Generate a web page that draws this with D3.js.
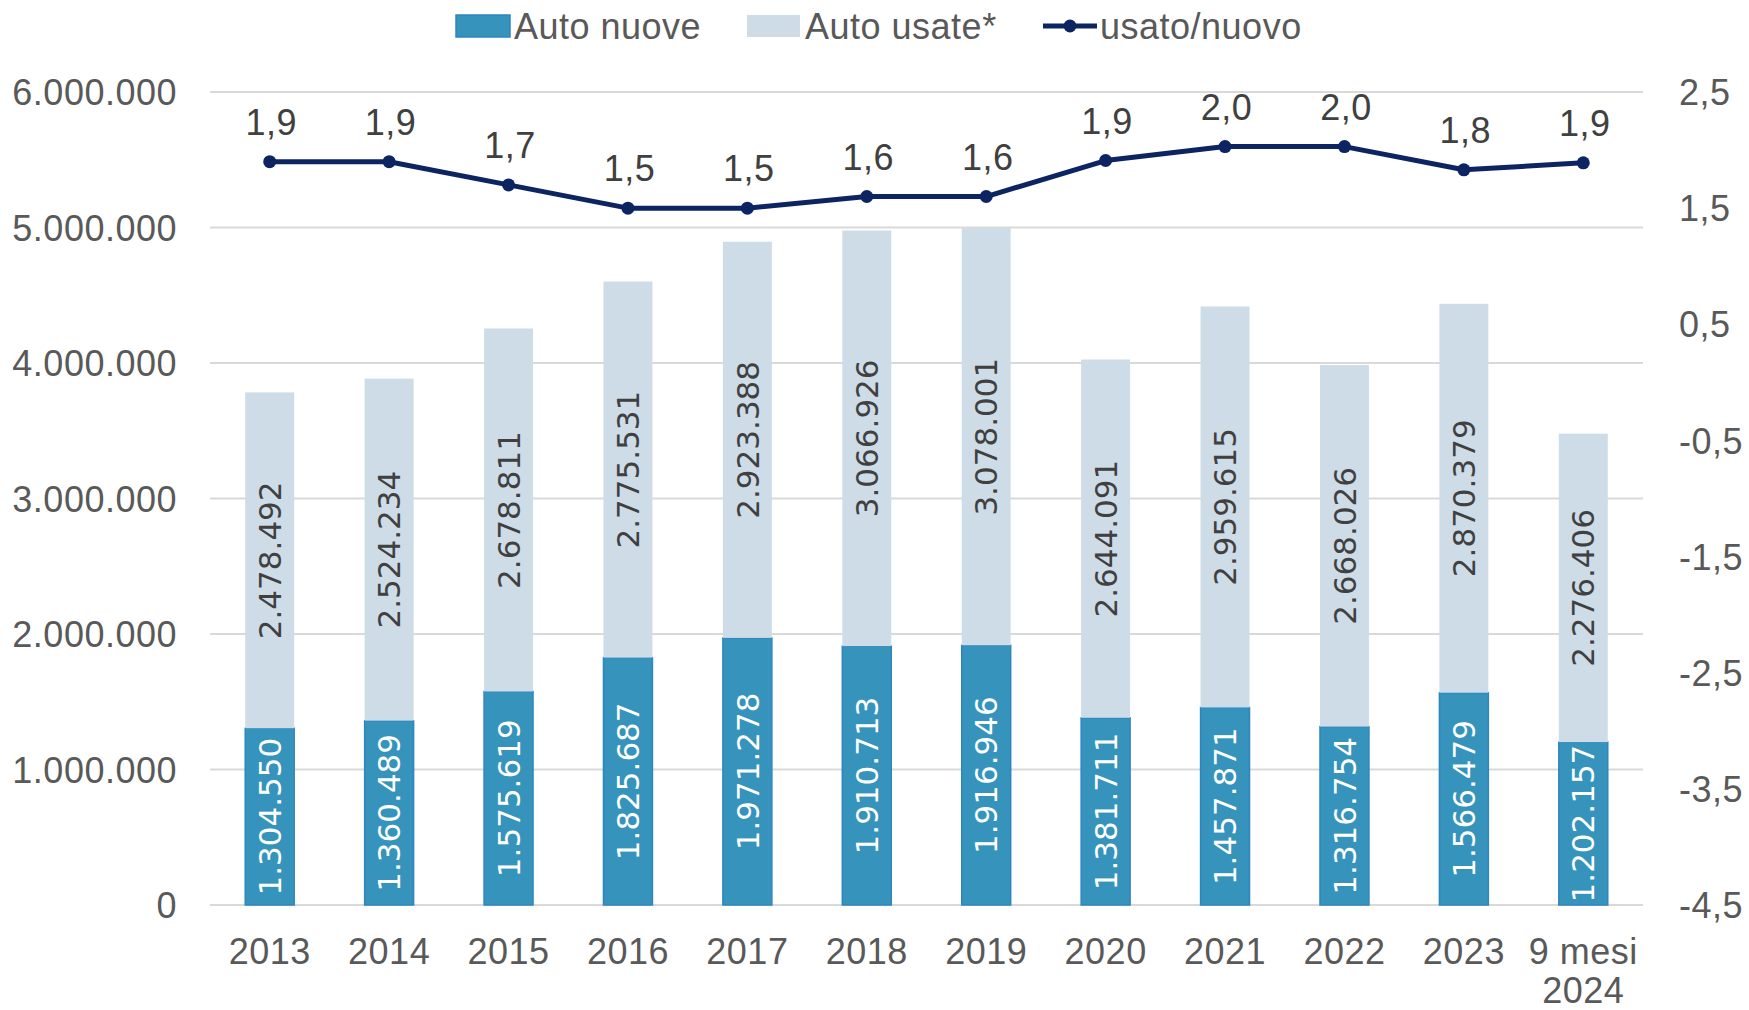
<!DOCTYPE html>
<html>
<head>
<meta charset="utf-8">
<script src="https://cdn.jsdelivr.net/npm/d3@7"></script>
<style>
  html, body { margin: 0; padding: 0; background: #fff; }
  svg { display: block; }
  .lbl { font-family: "Liberation Sans", Arial, sans-serif; letter-spacing: 0.5px; }
</style>
</head>
<body>
<svg id="chart" width="1749" height="1010"></svg>
<script>
const categories = ["2013", "2014", "2015", "2016", "2017", "2018", "2019", "2020", "2021", "2022", "2023", "9 mesi\n2024"];
const autoNuove = [1304550, 1360489, 1575619, 1825687, 1971278, 1910713, 1916946, 1381711, 1457871, 1316754, 1566479, 1202157];
const autoUsate = [2478492, 2524234, 2678811, 2775531, 2923388, 3066926, 3078001, 2644091, 2959615, 2668026, 2870379, 2276406];
const usatoNuovo = [1.90, 1.90, 1.70, 1.50, 1.50, 1.60, 1.60, 1.91, 2.03, 2.03, 1.83, 1.89];
const leftTicks = [0, 1000000, 2000000, 3000000, 4000000, 5000000, 6000000];
const rightTicks = [2.5, 1.5, 0.5, -0.5, -1.5, -2.5, -3.5, -4.5];

const it = d3.formatLocale({ decimal: ",", thousands: ".", grouping: [3], currency: ["", "€"], minus: "-" });
const fmtInt = it.format(",d");
const fmt1 = it.format(".1f");

const svg = d3.select("#chart");
const m = { left: 210, right: 1643, top: 92, bottom: 905 };
const textCol = "#595959";
const fs = 36;

const x = d3.scaleBand().domain(categories).range([m.left, m.right]).paddingInner(0.59).paddingOuter(0.295);
const y = d3.scaleLinear().domain([0, 6000000]).range([m.bottom, m.top]);
const y2 = d3.scaleLinear().domain([-4.5, 2.5]).range([m.bottom, m.top]);

const rows = categories.map((c, i) => ({ c, nuove: autoNuove[i], usate: autoUsate[i], r: usatoNuovo[i] }));

// gridlines
svg.append("g")
  .selectAll("line")
  .data(leftTicks)
  .join("line")
  .attr("x1", m.left).attr("x2", m.right)
  .attr("y1", d => y(d)).attr("y2", d => y(d))
  .attr("stroke", "#d9d9d9").attr("stroke-width", 2);

// left axis
const yAxis = d3.axisLeft(y).tickValues(leftTicks).tickFormat(fmtInt).tickSize(0).tickPadding(0);
svg.append("g")
  .attr("transform", "translate(177,0)")
  .call(yAxis)
  .call(g => g.select(".domain").remove())
  .selectAll("text")
  .attr("class", "lbl")
  .attr("font-size", fs)
  .attr("fill", textCol)
  .attr("dy", "0.35em");

// right axis
const y2Axis = d3.axisRight(y2).tickValues(rightTicks).tickFormat(fmt1).tickSize(0).tickPadding(0);
svg.append("g")
  .attr("transform", "translate(1679,0)")
  .call(y2Axis)
  .call(g => g.select(".domain").remove())
  .selectAll("text")
  .attr("class", "lbl")
  .attr("font-size", fs)
  .attr("fill", textCol)
  .attr("dy", "0.35em");

// x labels
const xl = svg.append("g")
  .selectAll("text")
  .data(categories)
  .join("text")
  .attr("class", "lbl")
  .attr("font-size", fs)
  .attr("fill", textCol)
  .attr("text-anchor", "middle")
  .attr("x", d => x(d) + x.bandwidth() / 2)
  .attr("y", 964);
xl.selectAll("tspan")
  .data(d => d.split("\n").map(t => ({ t, x: x(d) + x.bandwidth() / 2 })))
  .join("tspan")
  .attr("x", d => d.x)
  .attr("dy", (d, i) => i === 0 ? 0 : 39)
  .text(d => d.t);

// bars
const bars = svg.append("g");
bars.selectAll(".nuove")
  .data(rows)
  .join("rect")
  .attr("class", "nuove")
  .attr("x", d => x(d.c))
  .attr("width", x.bandwidth())
  .attr("y", d => y(d.nuove))
  .attr("height", d => y(0) - y(d.nuove))
  .attr("fill", "#3593bc")
  .attr("stroke", "#2e86c1")
  .attr("stroke-width", 1.5);
bars.selectAll(".usate")
  .data(rows)
  .join("rect")
  .attr("class", "usate")
  .attr("x", d => x(d.c))
  .attr("width", x.bandwidth())
  .attr("y", d => y(d.nuove + d.usate))
  .attr("height", d => y(d.nuove) - y(d.nuove + d.usate))
  .attr("fill", "#cddce7");

// bar value labels (rotated)
const barLabel = (cls, val, mid, col) => {
  svg.append("g")
    .selectAll("." + cls)
    .data(rows)
    .join("text")
    .attr("class", cls)
    .attr("font-family", "DejaVu Sans, sans-serif")
    .attr("font-size", 31)
    .attr("fill", col)
    .attr("text-anchor", "middle")
    .attr("dy", "0.36em")
    .attr("transform", d => `translate(${x(d.c) + x.bandwidth() / 2},${y(mid(d))}) rotate(-90)`)
    .text(d => fmtInt(val(d)));
};
barLabel("lbl-nuove", d => d.nuove, d => d.nuove / 2, "#ffffff");
barLabel("lbl-usate", d => d.usate, d => d.nuove + d.usate / 2, "#404040");

// ratio line
const line = d3.line()
  .x(d => x(d.c) + x.bandwidth() / 2)
  .y(d => y2(d.r));
svg.append("path")
  .datum(rows)
  .attr("d", line)
  .attr("fill", "none")
  .attr("stroke", "#0c2461")
  .attr("stroke-width", 5)
  .attr("stroke-linejoin", "round");
svg.append("g")
  .selectAll("circle")
  .data(rows)
  .join("circle")
  .attr("cx", d => x(d.c) + x.bandwidth() / 2)
  .attr("cy", d => y2(d.r))
  .attr("r", 6.5)
  .attr("fill", "#0c2461");
svg.append("g")
  .selectAll("text")
  .data(rows)
  .join("text")
  .attr("class", "lbl")
  .attr("font-size", fs)
  .attr("fill", "#404040")
  .attr("text-anchor", "middle")
  .attr("x", d => x(d.c) + x.bandwidth() / 2 + 1.5)
  .attr("y", d => y2(d.r) - 27)
  .text(d => fmt1(d.r));

// legend
const lg = svg.append("g");
lg.append("rect").attr("x", 456).attr("y", 15).attr("width", 54).attr("height", 22).attr("fill", "#3593bc").attr("stroke", "#2e86c1").attr("stroke-width", 1.5);
lg.append("text").attr("class", "lbl").attr("x", 514).attr("y", 39).attr("font-size", fs).attr("fill", textCol).text("Auto nuove");
lg.append("rect").attr("x", 747).attr("y", 15).attr("width", 53).attr("height", 22).attr("fill", "#cddce7");
lg.append("text").attr("class", "lbl").attr("x", 805).attr("y", 39).attr("font-size", fs).attr("fill", textCol).text("Auto usate*");
lg.append("line").attr("x1", 1043).attr("x2", 1097).attr("y1", 26).attr("y2", 26).attr("stroke", "#0c2461").attr("stroke-width", 5);
lg.append("circle").attr("cx", 1070).attr("cy", 26).attr("r", 6.5).attr("fill", "#0c2461");
lg.append("text").attr("class", "lbl").attr("x", 1100).attr("y", 39).attr("font-size", fs).attr("fill", textCol).text("usato/nuovo");
</script>
</body>
</html>
